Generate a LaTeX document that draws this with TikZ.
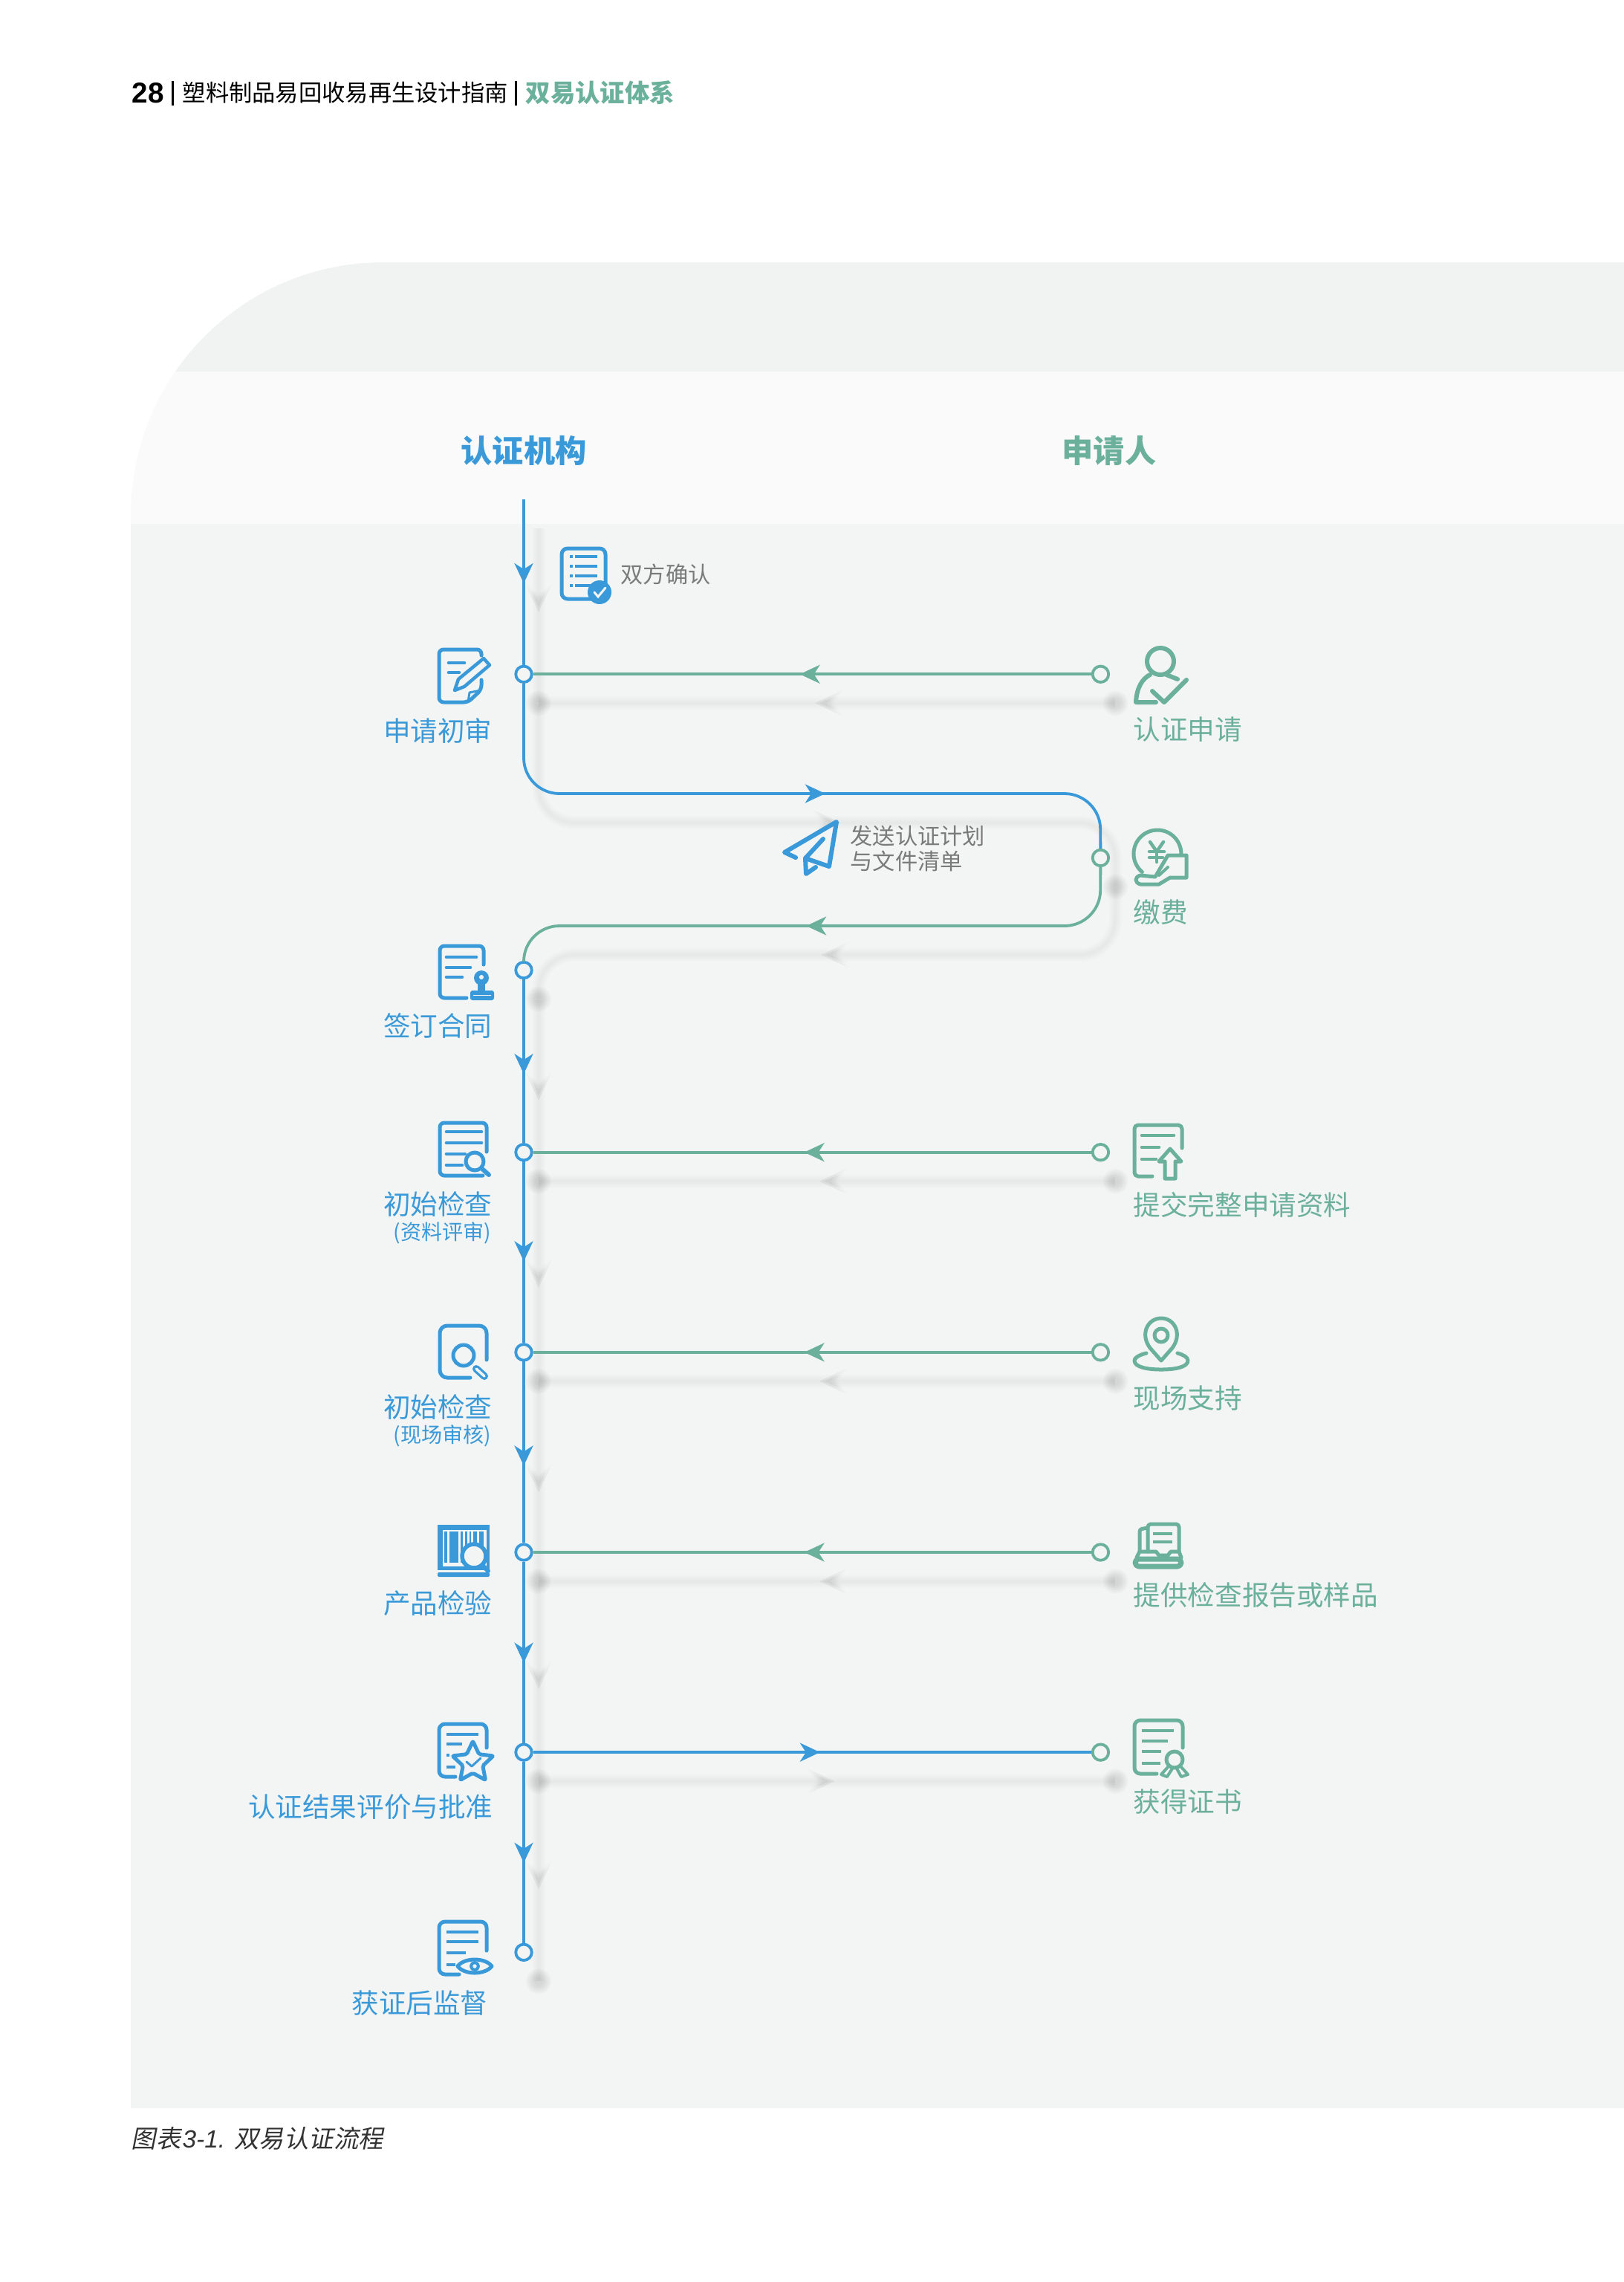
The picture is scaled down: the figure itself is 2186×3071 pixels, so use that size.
\documentclass[tikz,border=0pt]{standalone}
\usepackage{fontspec}
\usepackage{xcolor}
\usetikzlibrary{positioning, arrows.meta, decorations.markings}
\newfontfamily\cjk{Noto Sans CJK SC}
\newfontfamily\cjkslant[FakeSlant=0.2]{Noto Sans CJK SC}
\newfontfamily\latin{Liberation Sans}
\definecolor{certBlue}{HTML}{3A9AD9}
\definecolor{applGreen}{HTML}{6AB09B}
\definecolor{panelFill}{HTML}{F3F4F4}
\definecolor{panelTop}{HTML}{F0F3F2}
\definecolor{bandFill}{HTML}{FAFAFA}
\definecolor{noteGray}{HTML}{7A7A7A}
\newcommand{\tipscale}{1}
\tikzset{
    flowtip/.tip={Stealth[length=2.7mm, width=2.5mm, inset=0.8mm]},
    flowArrow/.style={postaction={decorate, decoration={markings, mark=at position #1 with {\arrow{flowtip[scale=\tipscale]}}}}},
    routeB/.style={color=certBlue, line width=0.38mm},
    routeG/.style={color=applGreen, line width=0.38mm},
    stopB/.style={circle, draw=certBlue, line width=0.38mm, fill=panelFill, minimum size=0.215cm, inner sep=0pt},
    stopG/.style={circle, draw=applGreen, line width=0.38mm, fill=panelFill, minimum size=0.215cm, inner sep=0pt},
    title/.style={inner sep=0pt, font=\cjk\bfseries\fontsize{12}{14}\selectfont},
    labelB/.style={inner sep=0pt, anchor=east, text=certBlue, font=\cjk\fontsize{10.4}{12}\selectfont},
    labelG/.style={inner sep=0pt, anchor=west, text=applGreen, font=\cjk\fontsize{10.4}{12}\selectfont},
    subLabel/.style={inner sep=0pt, anchor=east, text=certBlue, font=\cjk\fontsize{8}{9}\selectfont},
    note/.style={inner sep=0pt, anchor=west, align=left, text=noteGray, font=\cjk\fontsize{8.6}{9.7}\selectfont},
    header/.style={inner sep=0pt, anchor=west, font=\cjk\fontsize{8.9}{11}\selectfont},
    iconB/.style={draw=certBlue, line width=0.5mm, line join=round, line cap=round},
    iconG/.style={draw=applGreen, line width=0.5mm, line join=round, line cap=round},
    inkB/.style={iconB, line width=0.46mm, line cap=butt},
    inkG/.style={iconG, line width=0.46mm, line cap=butt}
}
\begin{document}
\begin{tikzpicture}[x=0.01cm, y=-0.01cm, on grid]
    \useasboundingbox (0,0) rectangle (2186,3071);

    % Panel
    \begin{scope}
        \clip (176,2837) -- (176,693) .. controls (176,505) and (328,353) .. (516,353) -- (2186,353) -- (2186,2837) -- cycle;
        \fill[panelTop] (176,353) rectangle (2186,500);
        \fill[bandFill] (176,500) rectangle (2186,705);
        \fill[panelFill] (176,705) rectangle (2186,2837);
    \end{scope}

    % Page header
    \node[header, font=\latin\bfseries\fontsize{11}{13}\selectfont] (PageNo) at (177,125) {28};
    \draw[line width=0.3mm] (232,109) -- (232,142);
    \node[header] (BookName) at (245,125) {塑料制品易回收易再生设计指南};
    \draw[line width=0.3mm] (694,109) -- (694,142);
    \node[header, text=applGreen, font=\cjk\bfseries\fontsize{9.5}{11}\selectfont] (Chapter) at (707,125) {双易认证体系};

    % Swimlane titles
    \node[title, text=certBlue] (CertBody) at (705,606) {认证机构};
    \node[title, text=applGreen] (Applicant) at (1493,606) {申请人};

    % Stops of the certification body
    \coordinate (CertStart) at (705,672);
    \node[stopB, below=2.225cm of CertStart] (StopApply) {};
    \node[stopB, below=3.98cm of StopApply] (StopContract) {};
    \node[stopB, below=2.45cm of StopContract] (StopDoc) {};
    \node[stopB, below=2.69cm of StopDoc] (StopSite) {};
    \node[stopB, below=2.69cm of StopSite] (StopProd) {};
    \node[stopB, below=2.69cm of StopProd] (StopEval) {};
    \node[stopB, below=2.69cm of StopEval] (StopSup) {};

    % Stops of the applicant
    \node[stopG, right=7.76cm of StopApply] (AppApply) {};
    \node[stopG, below=2.47cm of AppApply] (AppPay) {};
    \node[stopG, right=7.76cm of StopDoc] (AppDoc) {};
    \node[stopG, right=7.76cm of StopSite] (AppSite) {};
    \node[stopG, right=7.76cm of StopProd] (AppProd) {};
    \node[stopG, right=7.76cm of StopEval] (AppEval) {};

    % Corners of the loop
    \coordinate (SendLeft) at (705,1068);
    \coordinate (SendRight) at (1481,1068);
    \coordinate (ReplyRight) at (1481,1246);
    \coordinate (ReplyLeft) at (705,1246);

    % Soft shadow of the whole flow
    \foreach \n in {CertStart, StopApply, StopContract, StopDoc, StopSite, StopProd, StopEval, StopSup, AppApply, AppPay, AppDoc, AppSite, AppProd, AppEval, SendLeft, SendRight, ReplyRight, ReplyLeft}
        \coordinate (\n-sh) at ([xshift=0.2cm, yshift=-0.39cm]\n.center);
    \foreach \shw/\s in {18/1.4, 15/1.3, 12/1.2, 9/1.1, 6/1, 3/0.85} {
        \renewcommand{\tipscale}{\s}
        \begin{scope}[color=black, opacity=0.009, line width=\shw*0.1mm]
            \foreach \a/\b/\p in {CertStart/StopApply/1.13, StopContract/StopDoc/1.365, StopDoc/StopSite/1.435, StopSite/StopProd/1.495, StopProd/StopEval/1.455, StopEval/StopSup/1.455, AppApply/StopApply/4.045, AppDoc/StopDoc/3.985, AppSite/StopSite/3.985, AppProd/StopProd/3.985, StopEval/AppEval/3.985}
                \draw[flowArrow=\p cm] (\a-sh) -- (\b-sh);
            \draw[flowArrow=5.46cm, rounded corners=0.48cm] (StopApply-sh) -- (SendLeft-sh) -- (SendRight-sh) -- (AppPay-sh);
            \draw[flowArrow=4.67cm, rounded corners=0.48cm] (AppPay-sh) -- (ReplyRight-sh) -- (ReplyLeft-sh) -- (StopContract-sh);
        \end{scope}
    }
    \foreach \n in {StopApply, StopContract, StopDoc, StopSite, StopProd, StopEval, StopSup, AppApply, AppPay, AppDoc, AppSite, AppProd, AppEval}
        \foreach \r in {17, 15, 13, 11, 9, 6}
            \fill[black, opacity=0.018] (\n-sh) circle (\r);

    % Flow down the certification body
    \draw[routeB, flowArrow=1.13cm] (CertStart) -- (StopApply);
    \draw[routeB, flowArrow=1.27cm] (StopContract) -- (StopDoc);
    \draw[routeB, flowArrow=1.34cm] (StopDoc) -- (StopSite);
    \draw[routeB, flowArrow=1.40cm] (StopSite) -- (StopProd);
    \draw[routeB, flowArrow=1.36cm] (StopProd) -- (StopEval);
    \draw[routeB, flowArrow=1.36cm] (StopEval) -- (StopSup);

    % Exchanges between the two lanes
    \draw[routeG, flowArrow=3.92cm] (AppApply) -- (StopApply);
    \draw[routeB, flowArrow=5.33cm, rounded corners=0.48cm] (StopApply) -- (SendLeft) -- (SendRight) -- (AppPay);
    \draw[routeG, flowArrow=4.54cm, rounded corners=0.48cm] (AppPay) -- (ReplyRight) -- (ReplyLeft) -- (StopContract);
    \draw[routeG, flowArrow=3.86cm] (AppDoc) -- (StopDoc);
    \draw[routeG, flowArrow=3.86cm] (AppSite) -- (StopSite);
    \draw[routeG, flowArrow=3.86cm] (AppProd) -- (StopProd);
    \draw[routeB, flowArrow=3.86cm] (StopEval) -- (AppEval);

    % Labels, certification body
    \node[labelB] (LblApply) at (663,983) {申请初审};
    \node[labelB] (LblContract) at (663,1381) {签订合同};
    \node[labelB] (LblDoc) at (663,1620) {初始检查};
    \node[subLabel] (LblDocSub) at (662,1659) {(资料评审)};
    \node[labelB] (LblSite) at (663,1893) {初始检查};
    \node[subLabel] (LblSiteSub) at (662,1932) {(现场审核)};
    \node[labelB] (LblProd) at (663,2158) {产品检验};
    \node[labelB] (LblEval) at (664,2432) {认证结果评价与批准};
    \node[labelB] (LblSup) at (657,2696) {获证后监督};

    % Labels, applicant
    \node[labelG] (LblAppApply) at (1525,982) {认证申请};
    \node[labelG] (LblAppPay) at (1525,1228) {缴费};
    \node[labelG] (LblAppDoc) at (1525,1621) {提交完整申请资料};
    \node[labelG] (LblAppSite) at (1525,1882) {现场支持};
    \node[labelG] (LblAppProd) at (1525,2147) {提供检查报告或样品};
    \node[labelG] (LblAppEval) at (1525,2425) {获得证书};

    % Notes on the flow
    \node[note] (NoteConfirm) at (835,773) {双方确认};
    \node[note] (NoteSend) at (1144,1142) {发送认证计划\\与文件清单};

    % Caption
    \node[header, text=black!80, font=\fontsize{9.5}{11}\selectfont] (Caption) at (176,2878) {{\cjkslant 图表}\hspace{0.6pt}{\latin\itshape 3-1.}\hspace{3.5pt}{\cjkslant 双易认证流程}};

    % Icon: confirmation sheet
    \draw[iconB, rounded corners=0.08cm] (756,738) rectangle (815,806);
    \foreach \y in {749, 762, 775, 788} {
        \draw[inkB] (767,\y) -- (771,\y);
        \draw[inkB] (774,\y) -- (804,\y);
    }
    \fill[certBlue] (807,797) circle (16);
    \draw[panelFill, line width=0.3mm, line cap=round] (800,797) -- (805,803) -- (815,791);

    % Icon: paper plane
    \draw[iconB, line width=0.6mm] (1071,1154) -- (1056,1147) -- (1126,1106) -- (1116,1166) -- (1084,1155) -- (1108,1129);
    \draw[iconB, line width=0.6mm] (1084,1155) -- (1085,1176) -- (1098,1167);

    % Icon: application review
    \draw[iconB, rounded corners=0.06cm] (648,915) -- (648,928) -- (630,945) -- (591,945) -- (591,874) -- (648,874) -- (648,882);
    \draw[inkB, line cap=round] (604,892) -- (625,892);
    \draw[inkB, line cap=round] (604,905) -- (618,905);
    \draw[iconB, line width=0.45mm] (612,929) -- (617,914) -- (651,886) -- (659,895) -- (625,924) -- cycle;
    \draw[iconB, line width=0.3mm] (630,945) -- (632,932) -- (647,929);

    % Icon: contract with stamp
    \draw[iconB, rounded corners=0.06cm] (651,1298) -- (651,1273) -- (592,1273) -- (592,1343) -- (628,1343);
    \foreach \y/\e in {1288/641, 1302/633, 1315/622}
        \draw[inkB, line cap=round] (601,\y) -- (\e,\y);
    \fill[certBlue] (648,1316) circle (10);
    \fill[panelFill] (648,1315) circle (3);
    \fill[certBlue] (643,1322) rectangle (653,1335);
    \fill[certBlue, rounded corners=0.03cm] (633,1333) rectangle (665,1346);
    \draw[panelFill, line width=0.1mm] (637,1339) -- (661,1339);

    % Icon: document check
    \draw[iconB, rounded corners=0.06cm] (655,1550) -- (655,1511) -- (592,1511) -- (592,1582) -- (650,1582);
    \foreach \y/\e in {1523/648, 1538/648, 1553/626, 1568/622}
        \draw[inkB, line cap=round] (601,\y) -- (\e,\y);
    \filldraw[iconB, fill=panelFill] (639,1563) circle (12);
    \draw[iconB, line width=0.6mm] (648,1572) -- (658,1581);

    % Icon: site check
    \draw[iconB, rounded corners=0.1cm] (655,1830) -- (655,1784) -- (592,1784) -- (592,1854) -- (633,1854);
    \draw[iconB] (624,1824) circle (14);
    \draw[certBlue, line width=1mm, line cap=round] (641,1842) -- (652,1852);
    \draw[panelFill, line width=0.35mm, line cap=round] (641,1842) -- (652,1852);

    % Icon: product check
    \fill[certBlue] (589,2052) rectangle (659,2113);
    \fill[panelFill] (596,2059) rectangle (655,2108);
    \foreach \a/\b in {598/602, 605/617, 620/623, 626/629, 632/634, 637/642, 645/651}
        \fill[certBlue] (\a,2061) rectangle (\b,2103);
    \fill[certBlue, rounded corners=0.02cm] (589,2116) rectangle (659,2122);
    \filldraw[iconB, line width=0.55mm, fill=panelFill] (638,2094) circle (16);
    \draw[iconB, line width=0.6mm] (649,2106) -- (657,2114);

    % Icon: evaluation with star
    \draw[iconB, rounded corners=0.08cm] (655,2352) -- (655,2320) -- (591,2320) -- (591,2391) -- (613,2391);
    \foreach \y/\e in {2334/644, 2347/622, 2362/605, 2378/613}
        \draw[inkB] (601,\y) -- (\e,\y);
    \filldraw[iconB, fill=panelFill, rounded corners=0.02cm] (636.5,2343) -- (644.7,2360.7) -- (664,2363) -- (649.8,2376.3) -- (653.5,2395.5) -- (636.5,2386) -- (619.5,2395.5) -- (623.2,2376.3) -- (609,2363) -- (628.3,2360.7) -- cycle;
    \draw[iconB, line width=0.3mm] (628,2371) -- (635,2377) -- (647,2366);

    % Icon: supervision with eye
    \draw[iconB, rounded corners=0.08cm] (655,2625) -- (655,2586) -- (591,2586) -- (591,2657) -- (618,2657);
    \foreach \y/\e in {2600/644, 2613/644, 2628/627, 2644/613}
        \draw[inkB] (601,\y) -- (\e,\y);
    \filldraw[iconB, fill=panelFill] (616,2646) .. controls (625,2634) and (653,2634) .. (662,2646) .. controls (653,2658) and (625,2658) .. (616,2646) -- cycle;
    \draw[iconB, line width=0.4mm] (639,2646) circle (5);

    % Icon: applicant with tick
    \draw[iconG, line width=0.6mm] (1562,890) circle (18);
    \draw[iconG, line width=0.6mm] (1556,945) -- (1529,945) .. controls (1530,925) and (1538,913) .. (1548,908);
    \draw[iconG, line width=0.6mm] (1570,908) -- (1585,914);
    \draw[iconG, line width=0.6mm] (1551,930) -- (1567,945) -- (1597,915);

    % Icon: coin on a hand
    \draw[iconG] (1537.4,1173.5) arc (130:365:32);
    \draw[iconG, line width=0.45mm] (1548,1133) -- (1557,1146) -- (1566,1133);
    \draw[iconG, line width=0.45mm] (1547,1146) -- (1567,1146);
    \draw[iconG, line width=0.45mm] (1547,1154) -- (1565,1154);
    \draw[iconG, line width=0.45mm] (1557,1146) -- (1557,1160);
    \filldraw[iconG, fill=panelFill] (1572,1151) -- (1597,1151) -- (1597,1181) -- (1575,1181) -- (1560,1190) -- (1535,1190) .. controls (1527,1188) and (1527,1180) .. (1535,1178) -- (1555,1180) -- cycle;
    \draw[iconG, line width=0.4mm] (1560,1178) -- (1572,1167);

    % Icon: document upload
    \draw[iconG, rounded corners=0.05cm] (1591,1545) -- (1591,1514) -- (1527,1514) -- (1527,1583) -- (1551,1583);
    \foreach \y/\e in {1528/1580, 1544/1560, 1560/1556}
        \draw[inkG, line cap=round] (1537,\y) -- (\e,\y);
    \draw[iconG] (1575,1546) -- (1590,1563) -- (1582,1563) -- (1582,1586) -- (1568,1586) -- (1568,1563) -- (1560,1563) -- cycle;

    % Icon: map pin
    \draw[iconG] (1563,1831) -- (1548,1814) .. controls (1534,1795) and (1545,1774) .. (1563,1774) .. controls (1581,1774) and (1592,1795) .. (1578,1814) -- cycle;
    \draw[iconG] (1563,1797) circle (9);
    \draw[iconG] (1543,1821) .. controls (1531,1824) and (1527,1828) .. (1527,1831) .. controls (1527,1840) and (1545,1843) .. (1563,1843) .. controls (1581,1843) and (1599,1840) .. (1599,1831) .. controls (1599,1826) and (1592,1823) .. (1585,1821);

    % Icon: report in a tray
    \draw[iconG, rounded corners=0.04cm] (1545,2088) -- (1545,2051) -- (1587,2051) -- (1587,2088);
    \draw[iconG, rounded corners=0.03cm] (1534,2088) -- (1534,2058) -- (1545,2056);
    \draw[inkG] (1552,2064) -- (1578,2064);
    \draw[inkG] (1552,2075) -- (1578,2075);
    \draw[iconG, line width=0.7mm, rounded corners=0.05cm] (1528,2098) rectangle (1590,2108);
    \draw[iconG] (1530,2096) -- (1534,2088) -- (1556,2088) -- (1560,2093) -- (1572,2093) -- (1576,2088) -- (1587,2088) -- (1590,2096);

    % Icon: certificate with medal
    \draw[iconG, rounded corners=0.08cm] (1592,2352) -- (1592,2315) -- (1527,2315) -- (1527,2387) -- (1557,2387);
    \foreach \y/\e in {2329/1580, 2343/1572, 2357/1563, 2373/1562}
        \draw[inkG] (1537,\y) -- (\e,\y);
    \draw[iconG] (1581,2368) circle (11);
    \draw[iconG, line width=0.4mm] (1572,2378) -- (1563,2388) -- (1571,2391) -- (1578,2380);
    \draw[iconG, line width=0.4mm] (1590,2378) -- (1599,2388) -- (1590,2391) -- (1584,2380);
\end{tikzpicture}
\end{document}
